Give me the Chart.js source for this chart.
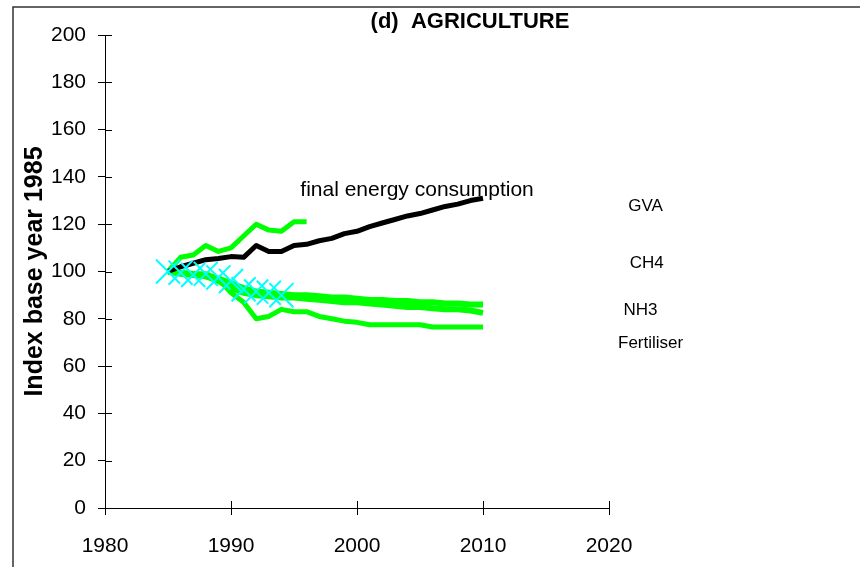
<!DOCTYPE html>
<html>
<head>
<meta charset="utf-8">
<script src="https://cdn.jsdelivr.net/npm/chart.js@4/dist/chart.umd.min.js"></script>
<style>
  html, body { margin: 0; padding: 0; background: #fff; }
</style>
</head>
<body>
<canvas id="agri-chart" width="860" height="567"></canvas>
<script>
// values, index 1985 = 100
var gvaYears = [1985, 1986, 1987, 1988, 1989, 1990, 1991, 1992, 1993, 1994, 1995, 1996, 1997,
    1998, 1999, 2000, 2001, 2002, 2003, 2004, 2005, 2006, 2007, 2008, 2009, 2010];
var gvaValues = [100, 102, 103.5, 105, 105.5, 106.3, 106, 111, 108.5, 108.5, 111, 111.5, 113,
    114, 116, 117, 119, 120.5, 122, 123.5, 124.5, 126, 127.5, 128.5, 130, 131];

var energyYears = [1985, 1986, 1987, 1988, 1989, 1990, 1991, 1992, 1993, 1994, 1995, 1996];
var energyValues = [100, 106, 107, 111, 108.5, 110, 115, 120, 117.5, 117, 121, 121];

var ch4Values = [100, 99.5, 99, 98, 97, 95, 93, 91.5, 91, 90.5, 90, 90, 89.5,
    89, 89, 88.5, 88, 88, 87.5, 87.5, 87, 87, 86.5, 86.5, 86, 86];
var nh3Values = [100, 99, 98.5, 98, 96, 93, 91, 90, 89.5, 89, 89, 88.5, 88,
    87.5, 87, 87, 86.5, 86, 85.5, 85, 85, 84.5, 84, 84, 83.5, 82.5];
var fertiliserValues = [100, 99, 99, 99, 97, 91, 87, 80, 81, 84, 83, 83, 81,
    80, 79, 78.5, 77.5, 77.5, 77.5, 77.5, 77.5, 76.5, 76.5, 76.5, 76.5, 76.5];

var crossYears = [1985, 1986, 1987, 1988, 1989, 1990, 1991, 1992, 1993, 1994];
var crossValues = [100, 99.5, 98.5, 99, 97.5, 96, 92.5, 91.5, 91, 90];

var xTicks = [1980, 1990, 2000, 2010, 2020];
var yTicks = [0, 20, 40, 60, 80, 100, 120, 140, 160, 180, 200];

function pairs(xs, ys) {
    return xs.map(function (x, i) { return { x: x, y: ys[i] }; });
}

var fontFamily = "'Liberation Sans', Arial, sans-serif";

function lineSet(label, xs, ys, color, width) {
    return {
        label: label,
        data: pairs(xs, ys),
        borderColor: color,
        backgroundColor: color,
        borderWidth: width,
        borderJoinStyle: "round",
        pointRadius: 0,
        tension: 0,
        fill: false,
    };
}

// text notes, title, frame and the inner half of each tick
var decorations = {
    id: "decorations",
    afterDatasetsDraw: function (chart) {
        var ctx = chart.ctx;
        var xs = chart.scales.x;
        var ys = chart.scales.y;
        ctx.save();

        ctx.strokeStyle = "#000";
        ctx.lineWidth = 1;
        ctx.beginPath();
        xTicks.forEach(function (t) {
            var px = Math.round(xs.getPixelForValue(t)) + 0.5;
            ctx.moveTo(px, ys.bottom);
            ctx.lineTo(px, ys.bottom - 7);
        });
        yTicks.forEach(function (t) {
            var py = Math.round(ys.getPixelForValue(t)) + 0.5;
            ctx.moveTo(xs.left, py);
            ctx.lineTo(xs.left + 7, py);
        });
        ctx.stroke();

        ctx.strokeStyle = "#333";
        ctx.lineWidth = 1.5;
        ctx.beginPath();
        ctx.moveTo(13, 567);
        ctx.lineTo(13, 7);
        ctx.lineTo(860, 7);
        ctx.stroke();

        ctx.fillStyle = "#000";
        ctx.textBaseline = "middle";
        ctx.textAlign = "center";
        ctx.font = "bold 22px " + fontFamily;
        ctx.fillText("(d)  AGRICULTURE", 470, 22);

        var notes = [
            { text: "final energy consumption", x: 1995.5, y: 134.5, size: 21, align: "left" },
            { text: "GVA", x: 2022.9, y: 127.5, size: 17, align: "center" },
            { text: "CH4", x: 2023, y: 103.5, size: 17, align: "center" },
            { text: "NH3", x: 2022.5, y: 83.5, size: 17, align: "center" },
            { text: "Fertiliser", x: 2023.3, y: 69.5, size: 17, align: "center" },
        ];
        notes.forEach(function (n) {
            ctx.font = n.size + "px " + fontFamily;
            ctx.textAlign = n.align;
            ctx.fillText(n.text, xs.getPixelForValue(n.x), ys.getPixelForValue(n.y));
        });
        ctx.restore();
    },
};

var agriChart = new Chart(document.getElementById("agri-chart"), {
    type: "line",
    data: {
        datasets: [
            {
                label: "cross series",
                data: pairs(crossYears, crossValues),
                showLine: false,
                pointStyle: "crossRot",
                pointRadius: 17,
                pointBorderWidth: 2,
                borderColor: "#00FFFF",
                backgroundColor: "#00FFFF",
            },
            lineSet("GVA", gvaYears, gvaValues, "#000000", 5),
            lineSet("final energy consumption", energyYears, energyValues, "#00FF00", 5),
            lineSet("CH4", gvaYears, ch4Values, "#00FF00", 6),
            lineSet("NH3", gvaYears, nh3Values, "#00FF00", 6),
            lineSet("Fertiliser", gvaYears, fertiliserValues, "#00FF00", 5),
        ],
    },
    options: {
        responsive: false,
        animation: false,
        layout: {
            padding: { top: 35, right: 251, bottom: 0, left: 0 },
        },
        plugins: {
            legend: { display: false },
            title: { display: false },
            tooltip: { enabled: false },
        },
        scales: {
            x: {
                type: "linear",
                min: 1980,
                max: 2020,
                afterBuildTicks: function (scale) {
                    scale.ticks = xTicks.map(function (v) { return { value: v }; });
                },
                afterFit: function (scale) { scale.height = 59; },
                grid: { drawOnChartArea: false, tickLength: 7, color: "#000" },
                border: { color: "#000", width: 1 },
                ticks: {
                    padding: 19,
                    color: "#000",
                    maxRotation: 0,
                    callback: function (v) { return String(v); },
                    font: { size: 21, family: fontFamily },
                },
            },
            y: {
                min: 0,
                max: 200,
                afterBuildTicks: function (scale) {
                    scale.ticks = yTicks.map(function (v) { return { value: v }; });
                },
                afterFit: function (scale) { scale.width = 105; },
                grid: { drawOnChartArea: false, tickLength: 7, color: "#000" },
                border: { color: "#000", width: 1 },
                ticks: {
                    padding: 12,
                    color: "#000",
                    font: { size: 21, family: fontFamily },
                },
                title: {
                    display: true,
                    text: "Index base year 1985",
                    color: "#000",
                    padding: { top: 20, bottom: 0 },
                    font: { size: 25, weight: "bold", family: fontFamily },
                },
            },
        },
    },
    plugins: [decorations],
});
</script>
</body>
</html>
